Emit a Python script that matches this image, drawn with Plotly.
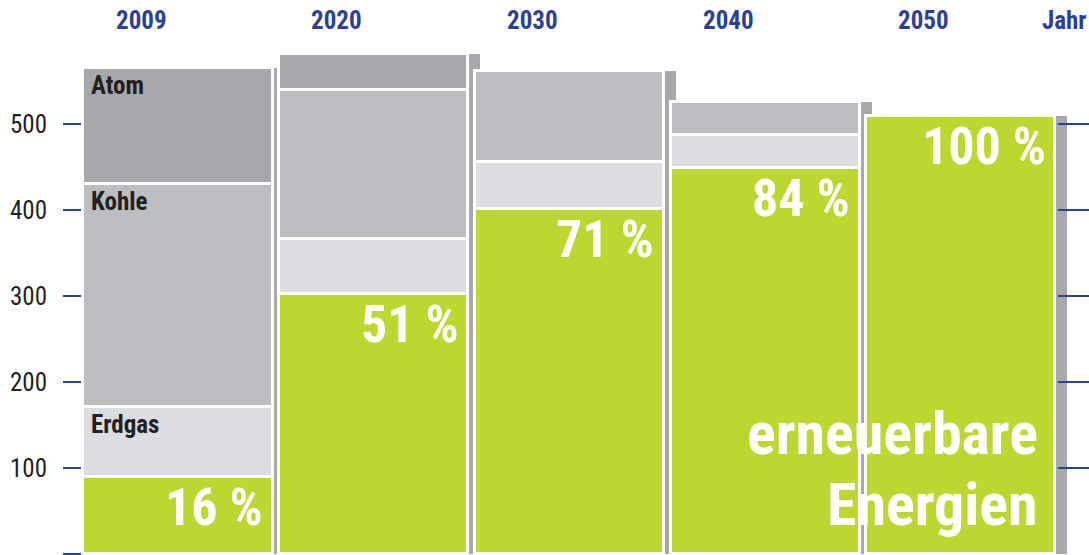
import numpy as np
import plotly.graph_objects as go

years = ["2009", "2020", "2030", "2040", "2050"]
erneuerbare = [90, 302, 401, 449, 509]
erdgas = [81, 64, 55, 38, 0]
kohle = [259, 174, 106, 39, 0]
atom = [135, 41, 0, 0, 0]
anteil = ["16 %", "51 %", "71 %", "84 %", "100 %"]
y_ticks = [0, 100, 200, 300, 400, 500]
y_ticktext = ["", "100", "200", "300", "400", "500"]

GREEN = "#bed630"
ATOM = "#a7a8ab"
KOHLE = "#bcbdc1"
GAS = "#dcdde0"
SHADOW = "#a7a8ab"
BLUE = "#2b3f96"
DARK = "#231f20"
FONT = "Roboto Condensed, Liberation Sans Narrow, sans-serif"

ren = np.array(erneuerbare, dtype=float)
gas = np.array(erdgas, dtype=float)
koh = np.array(kohle, dtype=float)
atm = np.array(atom, dtype=float)
total = ren + gas + koh + atm
idx = list(range(len(years)))

W = 0.966
fig = go.Figure()

# drop shadow behind each column
fig.add_trace(go.Bar(x=years, y=total, base=0, width=W, offset=-W / 2 + 0.061,
                     marker=dict(color=SHADOW, line=dict(width=0)), hoverinfo="skip"))

segments = [(ren, np.zeros(5), GREEN), (gas, ren, GAS), (koh, ren + gas, KOHLE), (atm, ren + gas + koh, ATOM)]
for vals, base, col in segments:
    fig.add_trace(go.Bar(x=years, y=vals, base=base, width=W, offset=-W / 2,
                         marker=dict(color=col, line=dict(color="white", width=3))))

ann = []
# year labels on top
for i, yr in zip(idx, years):
    ann.append(dict(x=i, xref="x", y=1, yref="paper", yanchor="top", xanchor="center",
                    xshift=-37, yshift=-4, text="<b>%s</b>" % yr, showarrow=False,
                    font=dict(family=FONT, size=25, color=BLUE)))
ann.append(dict(x=1, xref="paper", y=1, yref="paper", yanchor="top", xanchor="right",
                xshift=0, yshift=-4, text="<b>Jahr</b>", showarrow=False,
                font=dict(family=FONT, size=25, color=BLUE)))

# energy source labels in the 2009 column
for name, top in [("Atom", total[0]), ("Kohle", ren[0] + gas[0] + koh[0]), ("Erdgas", ren[0] + gas[0])]:
    ann.append(dict(x=0, xref="x", y=top, yref="y", yanchor="top", xanchor="left",
                    xshift=-89, yshift=-1, text="<b>%s</b>" % name, showarrow=False,
                    font=dict(family=FONT, size=25, color=DARK)))

# renewable share labels
for i, top, txt in zip(idx, ren, anteil):
    ann.append(dict(x=i, xref="x", y=top, yref="y", yanchor="top", xanchor="right",
                    xshift=87, yshift=2, text="<b>%s</b>" % txt, showarrow=False,
                    font=dict(family=FONT, size=52, color="white")))

ann.append(dict(x=idx[-1], xref="x", y=0, yref="paper", yanchor="bottom", xanchor="right",
                xshift=78, yshift=85.5, borderpad=0, text="<b>erneuerbare</b>", showarrow=False,
                font=dict(family=FONT, size=60, color="white")))
ann.append(dict(x=idx[-1], xref="x", y=0, yref="paper", yanchor="bottom", xanchor="right",
                xshift=78, yshift=14.5, borderpad=0, text="<b>Energien</b>", showarrow=False,
                font=dict(family=FONT, size=60, color="white")))

fig.update_layout(
    width=1089, height=555,
    margin=dict(l=82, r=0, t=0, b=0, pad=0),
    paper_bgcolor="white", plot_bgcolor="white",
    barmode="overlay", showlegend=False, bargap=0,
    annotations=ann,
    xaxis=dict(type="category", range=[-0.4906, 4.655], showticklabels=False, ticks="",
               showgrid=False, zeroline=False, showline=False),
    yaxis=dict(range=[-1.2, 644.2], tickvals=y_ticks, ticktext=y_ticktext, ticks="outside",
               ticklen=18, tickwidth=1.5, tickcolor=BLUE, showgrid=False, zeroline=False,
               showline=False, ticklabelstandoff=11,
               tickfont=dict(family=FONT, size=25, color=DARK)),
    yaxis2=dict(overlaying="y", side="right", range=[-1.2, 644.2], tickvals=y_ticks[1:],
                ticks="inside", ticklen=31, tickwidth=1.5, tickcolor=BLUE, showticklabels=False,
                showgrid=False, zeroline=False, showline=False),
)
fig.add_trace(go.Scatter(x=[years[0]], y=[0], yaxis="y2", mode="markers",
                         marker=dict(opacity=0), hoverinfo="skip"))

fig.write_html("out.html", config={"displayModeBar": False},
               post_script="document.body.style.margin='0';")
